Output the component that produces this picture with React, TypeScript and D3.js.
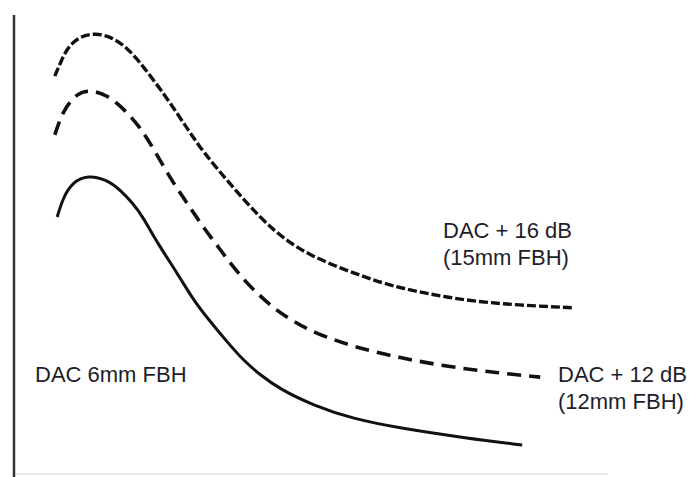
import React, { useRef, useEffect } from "react";
import * as d3 from "d3";

// depth (x, 0-100) and echo amplitude (y, 0-100)
const dac16X = [6.8, 7.7, 8.8, 10.5, 13.2, 16.0, 18.8, 21.5, 25.5, 28.8, 31.5, 36.0, 41.0, 45.2, 49.3, 54.3, 59.3, 64.3, 72.7, 81.0, 93.2];
const dac16Y = [86.7, 89.5, 92.6, 95.0, 96.1, 95.4, 93.0, 88.9, 81.9, 75.4, 70.2, 63.2, 55.8, 51.0, 47.7, 44.9, 42.5, 40.5, 38.3, 37.0, 36.2];

const dac12X = [6.8, 8.2, 10.5, 12.7, 15.5, 18.2, 21.0, 23.2, 26.5, 29.3, 31.5, 33.8, 36.0, 38.5, 41.0, 43.5, 46.5, 49.8, 56.5, 64.3, 72.7, 81.0, 87.7];
const dac12Y = [73.9, 79.3, 83.0, 83.7, 82.6, 79.7, 75.6, 71.0, 63.4, 58.2, 53.8, 49.9, 46.0, 42.0, 38.8, 35.9, 33.3, 30.9, 27.7, 25.3, 23.3, 22.0, 21.1];

const dac6X = [7.2, 8.2, 9.8, 12.3, 15.5, 17.7, 19.8, 21.5, 23.8, 27.2, 29.8, 32.2, 35.5, 38.2, 41.0, 44.3, 49.8, 56.5, 64.3, 75.5, 84.7];
const dac6Y = [56.0, 60.3, 63.6, 65.1, 64.1, 61.9, 59.0, 56.0, 50.5, 43.8, 38.1, 34.0, 28.8, 24.8, 21.6, 18.5, 15.0, 12.0, 10.0, 7.8, 6.3];

const labels16 = ["DAC + 16 dB", "(15mm FBH)"];
const labels12 = ["DAC + 12 dB", "(12mm FBH)"];
const labels6 = ["DAC 6mm FBH"];

const App = () => {
  const ref = useRef<SVGSVGElement>(null);
  const width = 694;
  const height = 477;

  useEffect(() => {
    const svg = d3.select(ref.current);
    svg.selectAll("*").remove();

    const x = d3.scaleLinear().domain([0, 100]).range([14, 614]);
    const y = d3.scaleLinear().domain([0, 100]).range([474, 15]);

    // faint baseline
    svg.append("line")
      .attr("x1", x(0)).attr("x2", x(99))
      .attr("y1", y(0)).attr("y2", y(0))
      .attr("stroke", "#e4e4e4")
      .attr("stroke-width", 1.5);

    const axis = svg.append("g")
      .attr("transform", `translate(${x(0)},0)`)
      .call(d3.axisLeft(y).tickValues([]).tickSizeOuter(0));
    axis.select(".domain")
      .attr("stroke", "#333")
      .attr("stroke-width", 2.5)
      .attr("d", `M0,${y(100)}V${height}`);

    const line = d3.line<[number, number]>()
      .x((d) => x(d[0]))
      .y((d) => y(d[1]))
      .curve(d3.curveBasis);

    const series = [
      { xs: dac16X, ys: dac16Y, dash: "9,3", w: 3.4 },
      { xs: dac12X, ys: dac12Y, dash: "14,8", w: 3.6 },
      { xs: dac6X, ys: dac6Y, dash: null, w: 3 },
    ];

    series.forEach((s) => {
      const pts = s.xs.map((v, i) => [v, s.ys[i]] as [number, number]);
      svg.append("path")
        .attr("d", line(pts))
        .attr("fill", "none")
        .attr("stroke", "#111")
        .attr("stroke-width", s.w)
        .attr("stroke-linecap", "butt")
        .attr("stroke-dasharray", s.dash);
    });

    const addLabel = (lines: string[], px: number, py: number) => {
      lines.forEach((t, i) => {
        svg.append("text")
          .attr("x", px)
          .attr("y", py + i * 27)
          .attr("font-family", "'Liberation Sans', Arial, sans-serif")
          .attr("font-size", 22)
          .attr("fill", "#1e1e2a")
          .text(t);
      });
    };

    addLabel(labels16, 443, 238);
    addLabel(labels12, 558, 382);
    addLabel(labels6, 35, 382);
  }, []);

  return (
    <div style={{ position: "fixed", left: 0, top: 0 }}>
      <svg ref={ref} width={width} height={height} style={{ display: "block", background: "#fff" }} />
    </div>
  );
};

export default App;
